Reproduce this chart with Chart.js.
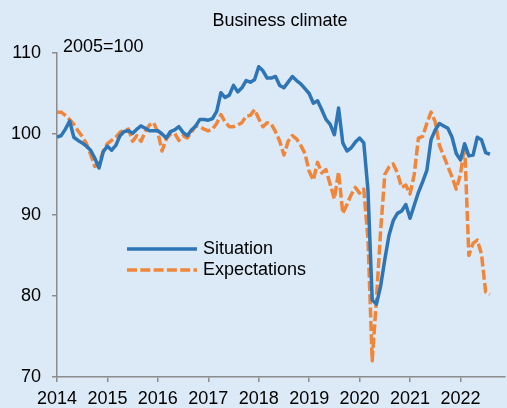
<!DOCTYPE html>
<html>
<head>
<meta charset="utf-8">
<script src="https://cdn.jsdelivr.net/npm/chart.js@4.4.1/dist/chart.umd.min.js"></script>
<style>
  html, body { margin: 0; padding: 0; background: #dce9f7; }
  canvas { display: block; }
</style>
</head>
<body>
<canvas id="climateChart" width="507" height="408"></canvas>
<script>
// monthly, Jan 2014 .. Aug 2022
const yearLabels = ["2014", "2015", "2016", "2017", "2018", "2019", "2020", "2021", "2022"];
const situation = [
  99.6, 99.8, 100.6, 101.6, 99.6, 99.2, 98.9, 98.5, 98.0, 97.0, 95.8, 97.8,
  98.5, 98.0, 98.6, 99.8, 100.3, 100.4, 100.1, 100.6, 101.0, 100.7, 100.4, 100.4,
  100.4, 100.0, 99.5, 100.3, 100.5, 100.9, 100.2, 99.8, 100.5, 101.0, 101.8, 101.8,
  101.7, 101.9, 102.8, 105.1, 104.5, 104.8, 106.0, 105.2, 105.7, 106.6, 106.4, 106.7,
  108.3, 107.8, 106.9, 106.9, 107.1, 106.0, 105.7, 106.4, 107.1, 106.6, 106.2, 105.6,
  105.0, 103.8, 104.1, 103.0, 101.8, 101.2, 99.9, 103.2, 98.9, 97.9, 98.3, 99.0,
  99.5, 98.9, 93.0, 79.5, 79.0, 81.2, 84.5, 87.5, 89.3, 90.2, 90.5, 91.3,
  89.6, 91.2, 92.8, 94.1, 95.5, 99.3, 100.5, 101.3, 101.0, 100.7, 99.6, 97.6,
  96.8, 98.8, 97.3, 97.4, 99.6, 99.3, 97.7, 97.5
];
const expectations = [
  102.7, 102.7, 102.3, 101.8, 101.2, 100.4, 99.7, 98.8, 97.5, 96.0, 96.3, 97.9,
  98.8, 99.2, 99.6, 100.2, 100.5, 100.6, 99.1, 99.8, 99.1, 100.3, 101.1, 101.4,
  100.2, 97.9, 99.4, 100.0, 100.1, 99.2, 99.8, 99.5, 100.2, 101.0, 100.9, 100.6,
  100.4, 100.6, 101.3, 102.4, 101.5, 100.9, 100.9, 101.1, 101.4, 102.2, 102.3, 103.0,
  101.9, 100.9, 101.4, 101.2, 100.3, 99.1, 97.4, 99.1, 99.8, 99.4, 98.6, 97.6,
  95.4, 94.3, 96.5, 95.2, 95.6, 93.8, 92.0, 95.3, 90.2, 91.3, 92.5, 93.4,
  92.7, 93.2, 87.0, 72.0, 79.5, 88.0, 95.0, 95.9, 96.3, 95.2, 93.4, 93.7,
  92.6, 95.0, 99.5, 99.7, 101.3, 102.7, 101.5, 98.6, 97.3, 96.0, 94.7, 93.2,
  95.0, 98.6, 85.0, 86.5, 86.9, 85.2, 80.5, 80.2
];
const seriesNames = ["Situation", "Expectations"];

const blue = "#2e75b6";
const orange = "#f0863a";
const axisGray = "#8c8c8c";
const dash = [10, 3.3];
const font = { family: "'Liberation Sans', Arial, sans-serif", size: 18 };

const toPoints = (vals) => vals.map((v, i) => ({ x: i, y: v }));

// title, base note and legend
const decorations = {
  id: "decorations",
  afterDraw(chart) {
    const ctx = chart.ctx;
    ctx.save();
    ctx.font = "18px 'Liberation Sans', Arial, sans-serif";
    ctx.fillStyle = "#000";
    ctx.textBaseline = "middle";
    ctx.textAlign = "center";
    ctx.fillText("Business climate", 280, 21);
    ctx.textAlign = "left";
    ctx.fillText("2005=100", 63, 47);

    const rows = [
      { y: 249, color: blue, dash: [] },
      { y: 270, color: orange, dash: dash },
    ];
    rows.forEach((r, i) => {
      ctx.beginPath();
      ctx.setLineDash(r.dash);
      ctx.lineWidth = 3.5;
      ctx.strokeStyle = r.color;
      ctx.moveTo(127, r.y);
      ctx.lineTo(197, r.y);
      ctx.stroke();
      ctx.setLineDash([]);
      ctx.fillText(seriesNames[i], 203, r.y);
    });
    ctx.restore();
  }
};

new Chart(document.getElementById("climateChart"), {
  type: "line",
  data: {
    datasets: [
      {
        label: seriesNames[0],
        data: toPoints(situation),
        borderColor: blue,
        borderWidth: 3.5,
        pointRadius: 0,
        tension: 0,
        borderJoinStyle: "round",
      },
      {
        label: seriesNames[1],
        data: toPoints(expectations),
        borderColor: orange,
        borderWidth: 3.5,
        borderDash: dash,
        pointRadius: 0,
        tension: 0,
        borderJoinStyle: "round",
      },
    ],
  },
  options: {
    responsive: false,
    animation: false,
    layout: { padding: { left: 0, right: 2, top: 53, bottom: 0 } },
    plugins: { legend: { display: false }, title: { display: false }, tooltip: { enabled: false } },
    scales: {
      x: {
        type: "linear",
        min: 0,
        max: 106.6,
        afterFit: (s) => { s.height = 31; },
        grid: { display: true, drawOnChartArea: false, color: axisGray, tickLength: 5, lineWidth: 1.5 },
        border: { color: axisGray, width: 1.5 },
        ticks: {
          stepSize: 12,
          includeBounds: false,
          autoSkip: false,
          maxRotation: 0,
          padding: 6,
          color: "#000",
          font,
          callback: (v) => yearLabels[v / 12],
        },
      },
      y: {
        min: 70,
        max: 110,
        afterFit: (s) => { s.width = 57; },
        grid: { display: true, drawOnChartArea: false, color: axisGray, tickLength: 5, lineWidth: 1.5 },
        border: { color: axisGray, width: 1.5 },
        ticks: { stepSize: 10, padding: 11, color: "#000", font },
      },
    },
  },
  plugins: [decorations],
});
</script>
</body>
</html>
